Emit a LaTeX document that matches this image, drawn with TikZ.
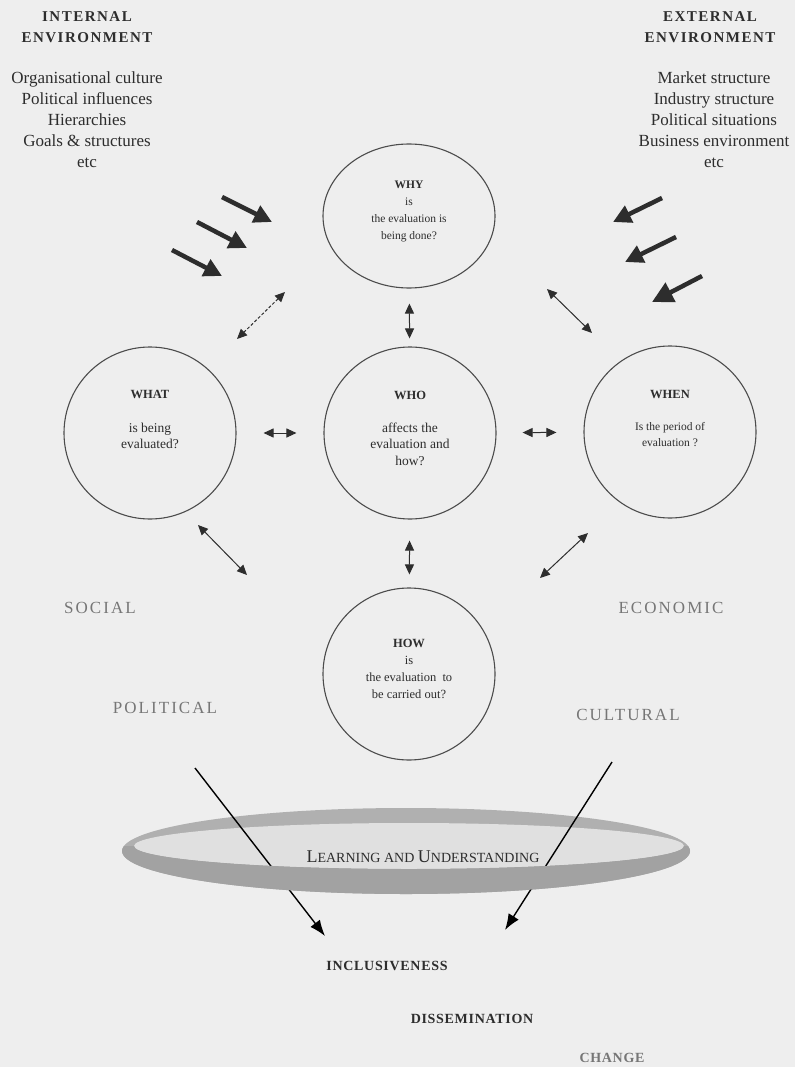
\documentclass[tikz,border=0pt]{standalone}
\usepackage{fontspec}
\setmainfont{Liberation Serif}
\usetikzlibrary{shapes,arrows.meta,positioning}

\definecolor{paper}{RGB}{238,238,238}
\definecolor{ink}{RGB}{45,45,45}
\definecolor{fadedink}{RGB}{118,118,118}
\definecolor{ringband}{RGB}{162,162,162}
\definecolor{ringin}{RGB}{224,224,224}

\tikzset{
  bubble/.style={draw=ink!85, line width=1.1pt, circle, minimum size=172pt, inner sep=0pt},
  qhead/.style={font=\fontsize{12.5}{14}\selectfont\bfseries, text=ink},
  qtext/.style={align=center, font=\fontsize{13.5}{16.5}\selectfont, text=ink},
  qsmall/.style={align=center, font=\fontsize{11.5}{17}\selectfont, text=ink},
  envhead/.style={align=center, font=\fontsize{15}{21}\selectfont\bfseries\addfontfeatures{LetterSpace=10}, text=ink},
  envlist/.style={align=center, font=\fontsize{17}{21}\selectfont, text=ink},
  factor/.style={font=\fontsize{17}{18}\selectfont\addfontfeatures{LetterSpace=12}, text=fadedink},
  outcome/.style={font=\fontsize{14}{16}\selectfont\bfseries\addfontfeatures{LetterSpace=5}, text=ink},
  push/.style={-{Triangle[length=18pt,width=18pt]}, line width=4.5pt, ink},
  link/.style={{Triangle[length=10pt,width=9pt]}-{Triangle[length=10pt,width=9pt]}, line width=1pt, ink},
  flow/.style={-{Latex[length=16pt,width=12pt]}, line width=1.4pt, black}
}

\begin{document}
\begin{tikzpicture}[x=1pt,y=-1pt]
\fill[paper] (0,0) rectangle (795,1067);

% environments
\node[envhead] (inthead) at (87,27) {INTERNAL\\ENVIRONMENT};
\node[envlist] (intlist) at (87,120) {Organisational culture\\Political influences\\Hierarchies\\Goals \& structures\\etc};
\node[envhead] (exthead) at (710,27) {EXTERNAL\\ENVIRONMENT};
\node[envlist] (extlist) at (714,120) {Market structure\\Industry structure\\Political situations\\Business environment\\etc};

% the five questions
\node[bubble, ellipse, minimum width=172pt, minimum height=144pt] (why) at (409,216) {};
\node[bubble] (what) at (150,433) {};
\node[bubble] (who) at (410,433) {};
\node[bubble] (when) at (670,432) {};
\node[bubble] (how) at (409,674) {};

\node[qsmall] at ([yshift=5pt]why.center) {\textbf{WHY}\\is\\the evaluation is\\being done?};
\node[qhead] at ([yshift=39pt]what.center) {WHAT};
\node[qtext] at ([yshift=-3pt]what.center) {is being\\evaluated?};
\node[qhead] at ([yshift=38pt]who.center) {WHO};
\node[qtext] at ([yshift=-11pt]who.center) {affects the\\evaluation and\\how?};
\node[qhead] at ([yshift=38pt]when.center) {WHEN};
\node[qsmall, font=\fontsize{11.5}{16}\selectfont] at ([yshift=-3pt]when.center) {Is the period of\\evaluation ?};
\node[qsmall, font=\fontsize{12.5}{17}\selectfont] at ([yshift=5pt]how.center) {\textbf{HOW}\\is\\the evaluation\ \ to\\be carried out?};

% links between questions
\draw[link, shorten <=15pt, shorten >=8pt] (why) -- (who);
\draw[link, shorten <=21pt, shorten >=13pt] (who) -- (how);
\draw[link, shorten <=27pt, shorten >=27pt] (what) -- (who);
\draw[link, shorten <=26pt, shorten >=27pt] (who) -- (when);
\coordinate (whyW) at (285,292);
\coordinate (whatN) at (237,339);
\coordinate (whyE) at (547,289);
\coordinate (whenN) at (592,333);
\coordinate (whatS) at (198,525);
\coordinate (whatSE) at (247,575);
\coordinate (whenS) at (588,533);
\coordinate (whenSW) at (540,578);
\draw[link, densely dashed] (whyW) -- (whatN);
\draw[link] (whyE) -- (whenN);
\draw[link] (whatS) -- (whatSE);
\draw[link] (whenS) -- (whenSW);

% pressures from outside
\coordinate (inA) at (222,197); \coordinate (inAt) at (272,222);
\coordinate (inB) at (197,222); \coordinate (inBt) at (247,248);
\coordinate (inC) at (172,250); \coordinate (inCt) at (222,276);
\coordinate (exA) at (662,198); \coordinate (exAt) at (613,222);
\coordinate (exB) at (676,237); \coordinate (exBt) at (625,262);
\coordinate (exC) at (702,276); \coordinate (exCt) at (652,302);
\draw[push] (inA) -- (inAt);
\draw[push] (inB) -- (inBt);
\draw[push] (inC) -- (inCt);
\draw[push] (exA) -- (exAt);
\draw[push] (exB) -- (exBt);
\draw[push, -{Triangle[length=21pt,width=21pt]}] (exC) -- (exCt);

% contexts
\node[factor] (social) at (100,608) {SOCIAL};
\node[factor] (economic) at (671,608) {ECONOMIC};
\node[factor] (political) at (165,708) {POLITICAL};
\node[factor] (cultural) at (628,715) {CULTURAL};

% ring
\fill[ringband!85] (406,851) ellipse [x radius=284, y radius=43];
\fill[ringin] (409,846) ellipse [x radius=275, y radius=23];
\node[text=ink] (ring) at (423,857) {\fontsize{18}{18}\selectfont L\fontsize{14}{14}\selectfont EARNING AND \fontsize{18}{18}\selectfont U\fontsize{14}{14}\selectfont NDERSTANDING};

\coordinate (polfoot) at (195,768);
\coordinate (inclTop) at (325,936);
\coordinate (culfoot) at (612,762);
\coordinate (dissTop) at (505,930);
\draw[flow] (polfoot) -- (inclTop);
\draw[flow] (culfoot) -- (dissTop);
\begin{scope}
  \clip (0,846) rectangle (795,1067);
  \fill[ringband, even odd rule] (406,851) ellipse [x radius=284, y radius=43] (409,846) ellipse [x radius=275, y radius=23];
\end{scope}

% outcomes
\node[outcome] (incl) at (387,966) {INCLUSIVENESS};
\node[outcome] (diss) at (472,1019) {DISSEMINATION};
\node[outcome, text=fadedink] (change) at (612,1058) {CHANGE};
\end{tikzpicture}
\end{document}
